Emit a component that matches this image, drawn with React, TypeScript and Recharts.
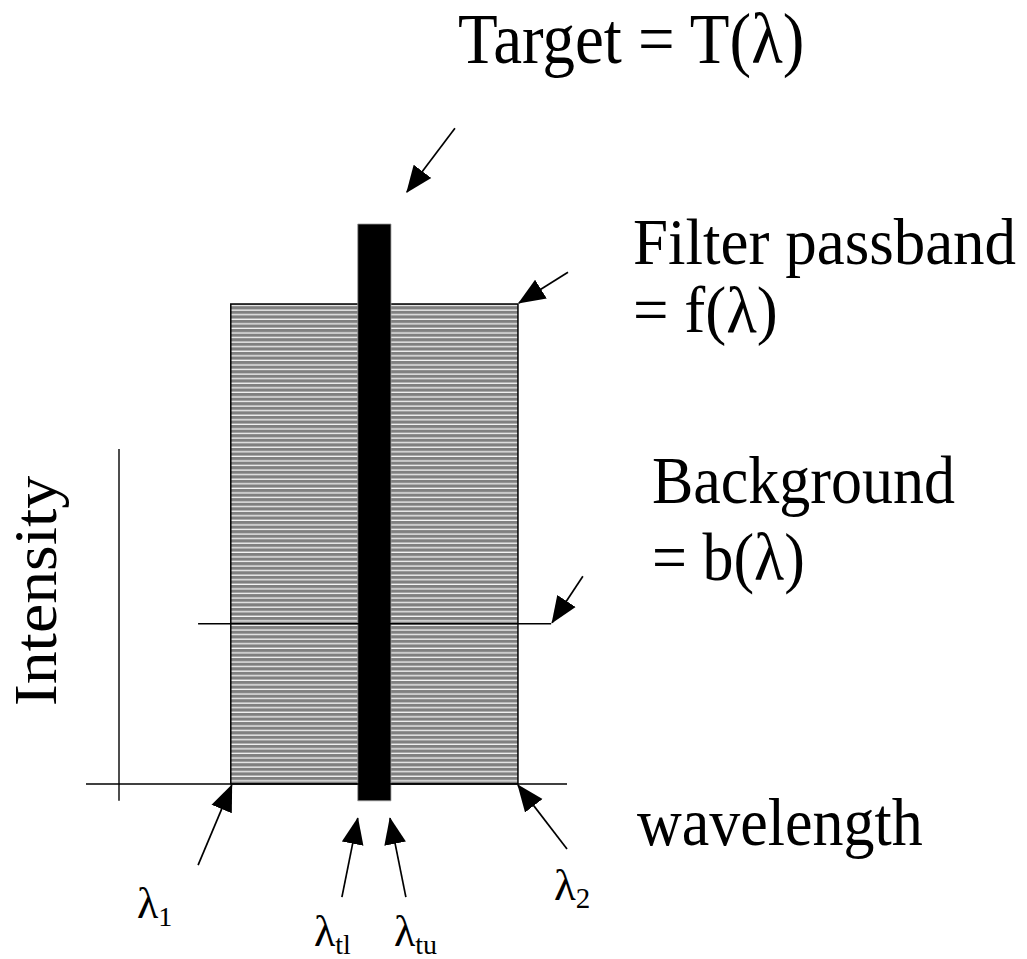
import { ComposedChart, XAxis, YAxis, ReferenceArea, ReferenceLine } from 'recharts';

// wavelength runs left to right, intensity bottom to top (arbitrary units)
const xDomain = [-1.788, 19.563];
const yDomain = [-3.125, 14];

const wavelengthAxis = [0, 10];
const intensityAxis = [-0.3, 5.98];
const intensityAxisAt = 0.686;

const passband = [3.01, 8.98]; // lambda1, lambda2
const filterLevel = 8.57;

const targetBand = [5.65, 6.34]; // lambda_tl, lambda_tu
const targetLevel = 10;
const targetFoot = -0.3;

const backgroundSpan = [2.33, 9.67];
const backgroundLevel = 2.86;

// arrows: tail -> tip
const arrows = [
  { name: 'target', from: [7.67, 11.71], to: [6.67, 10.57] },
  { name: 'filter', from: [10.02, 9.14], to: [9.0, 8.59] },
  { name: 'background', from: [10.33, 3.71], to: [9.69, 2.88] },
  { name: 'lambda1', from: [2.33, -1.45], to: [3.03, -0.02] },
  { name: 'lambdaTl', from: [5.32, -2.02], to: [5.65, -0.61] },
  { name: 'lambdaTu', from: [6.65, -2.02], to: [6.32, -0.61] },
  { name: 'lambda2', from: [10.0, -1.16], to: [8.98, -0.02] },
];

const serif = '"Liberation Serif", "Times New Roman", serif';

// label text is drawn a little taller than wide, as in the original slide
const Label = ({ x, y, size, sy = 1.1, children }: { x: number; y: number; size: number; sy?: number; children: any }) => (
  <text transform={`translate(${x},${y}) scale(1,${sy})`} fontSize={size}>
    {children}
  </text>
);

export default function App() {
  return (
    <div style={{ position: 'absolute', left: 0, top: 0, background: '#fff' }}>
      <ComposedChart
        width={1027}
        height={959}
        data={[]}
        margin={{ top: 0, right: 0, bottom: 0, left: 0 }}
        style={{ fontFamily: serif }}
      >
        <defs>
          <pattern id="hatch" patternUnits="userSpaceOnUse" width="8" height="4.57">
            <rect width="8" height="4.57" fill="#808080" />
            <rect y="3.3" width="8" height="1.2" fill="#fff" />
          </pattern>
          <marker
            id="head"
            markerUnits="userSpaceOnUse"
            markerWidth="27"
            markerHeight="24"
            refX="26"
            refY="12"
            orient="auto"
          >
            <path d="M0,1 L27,12 L0,23 Z" fill="#000" />
          </marker>
        </defs>
        <XAxis type="number" dataKey="w" domain={xDomain} hide allowDataOverflow />
        <YAxis type="number" domain={yDomain} hide allowDataOverflow />

        <ReferenceArea
          x1={passband[0]}
          x2={passband[1]}
          y1={0}
          y2={filterLevel}
          fill="url(#hatch)"
          fillOpacity={1}
          stroke="#000"
          strokeWidth={1.5}
        />
        <ReferenceLine
          segment={[
            { x: intensityAxisAt, y: intensityAxis[0] },
            { x: intensityAxisAt, y: intensityAxis[1] },
          ]}
          stroke="#000"
          strokeWidth={1.4}
        />
        <ReferenceLine
          segment={[
            { x: backgroundSpan[0], y: backgroundLevel },
            { x: backgroundSpan[1], y: backgroundLevel },
          ]}
          stroke="#000"
          strokeWidth={1.5}
        />
        <ReferenceLine
          segment={[
            { x: wavelengthAxis[0], y: 0 },
            { x: wavelengthAxis[1], y: 0 },
          ]}
          stroke="#000"
          strokeWidth={1.6}
        />
        <ReferenceArea
          x1={targetBand[0]}
          x2={targetBand[1]}
          y1={targetFoot}
          y2={targetLevel}
          fill="#000"
          fillOpacity={1}
          stroke="#999"
          strokeWidth={0.8}
        />
        {arrows.map((a) => (
          <ReferenceLine
            key={a.name}
            segment={[
              { x: a.from[0], y: a.from[1] },
              { x: a.to[0], y: a.to[1] },
            ]}
            stroke="#000"
            strokeWidth={1.7}
            markerEnd="url(#head)"
          />
        ))}

        <g fontFamily={serif} fill="#000">
          <Label x={458} y={63} size={65} sy={1.12}>Target = T(λ)</Label>
          <Label x={633} y={264} size={63} sy={1.05}>Filter passband</Label>
          <Label x={633} y={332} size={63} sy={1.05}>= f(λ)</Label>
          <Label x={652} y={503} size={62}>Background</Label>
          <Label x={652} y={580} size={62}>= b(λ)</Label>
          <Label x={637} y={845} size={62}>wavelength</Label>
          <text transform="translate(56,591) rotate(-90) scale(1.08,1)" textAnchor="middle" fontSize={61}>
            Intensity
          </text>
          <text x={137} y={918} fontSize={44}>
            λ<tspan fontSize={28} dy={8}>1</tspan>
          </text>
          <text x={314} y={946} fontSize={44}>
            λ<tspan fontSize={28} dy={8}>tl</tspan>
          </text>
          <text x={394} y={946} fontSize={44}>
            λ<tspan fontSize={28} dy={8}>tu</tspan>
          </text>
          <text x={554} y={900} fontSize={45}>
            λ<tspan fontSize={29} dy={8}>2</tspan>
          </text>
        </g>
      </ComposedChart>
    </div>
  );
}
